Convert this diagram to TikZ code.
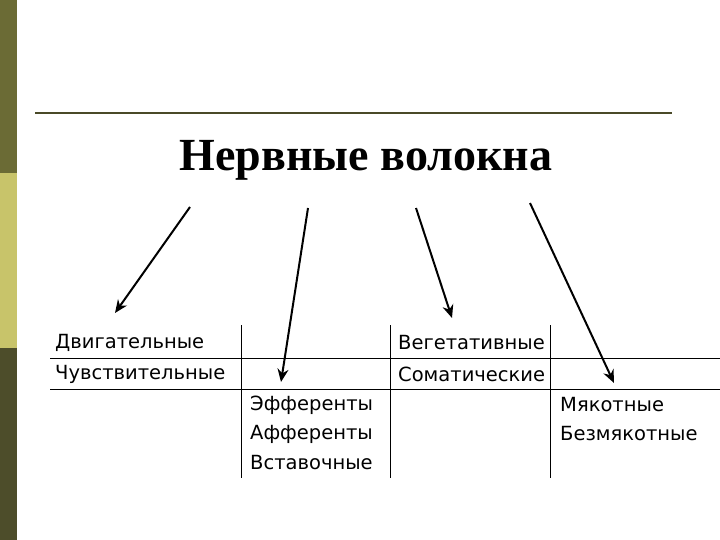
\documentclass[tikz,border=0pt]{standalone}
\usepackage{fontspec}
\setmainfont{DejaVu Sans}
\newfontfamily\titlefont{Liberation Serif}
\usetikzlibrary{arrows.meta}
\definecolor{barA}{HTML}{6B6B35}
\definecolor{barB}{HTML}{C8C46A}
\definecolor{barC}{HTML}{4D4D2A}
\definecolor{rule}{HTML}{4A4A28}
\begin{document}
\begin{tikzpicture}[x=1pt,y=-1pt,
  lbl/.style={anchor=west,inner sep=0pt,font=\fontsize{19.5}{23}\selectfont},
  grid/.style={line width=1pt},
  arr/.style={line width=2pt,-{Stealth[length=13pt,width=11pt]}}]
\useasboundingbox (0,0) rectangle (720,540);
\fill[white] (0,0) rectangle (720,540);
\fill[barA] (0,0) rectangle (17,173);
\fill[barB] (0,173) rectangle (17,348);
\fill[barC] (0,348) rectangle (17,540);
\draw[rule,line width=1.5pt] (35,113) -- (672,113);
\node[font=\titlefont\bfseries\fontsize{46}{50}\selectfont] (title) at (366,160) {Нервные волокна};
% grid
\draw[grid] (50,358) -- (720,358);
\draw[grid] (50,389) -- (720,389);
\draw[grid] (241,325) -- (241,478);
\draw[grid] (390,325) -- (390,478);
\draw[grid] (550,325) -- (550,478);
% labels
\node[lbl] (d) at (55,343) {Двигательные};
\node[lbl] (ch) at (55,374) {Чувствительные};
\node[lbl] (v) at (398,343) {Вегетативные};
\node[lbl] (s) at (398,374) {Соматические};
\node[lbl] (e) at (250,405) {Эфференты};
\node[lbl] (a) at (250,434) {Афференты};
\node[lbl] (vs) at (250,463) {Вставочные};
\node[lbl] (m) at (560,405) {Мякотные};
\node[lbl] (b) at (560,434) {Безмякотные};
% arrows
\coordinate (s1) at (190,207); \coordinate (e1) at (115,313);
\coordinate (s2) at (308,208); \coordinate (e2) at (281,382);
\coordinate (s3) at (416,208); \coordinate (e3) at (452,318);
\coordinate (s4) at (530,203); \coordinate (e4) at (614,383);
\draw[arr] (s1) -- (e1);
\draw[arr] (s2) -- (e2);
\draw[arr] (s3) -- (e3);
\draw[arr] (s4) -- (e4);
\end{tikzpicture}
\end{document}
